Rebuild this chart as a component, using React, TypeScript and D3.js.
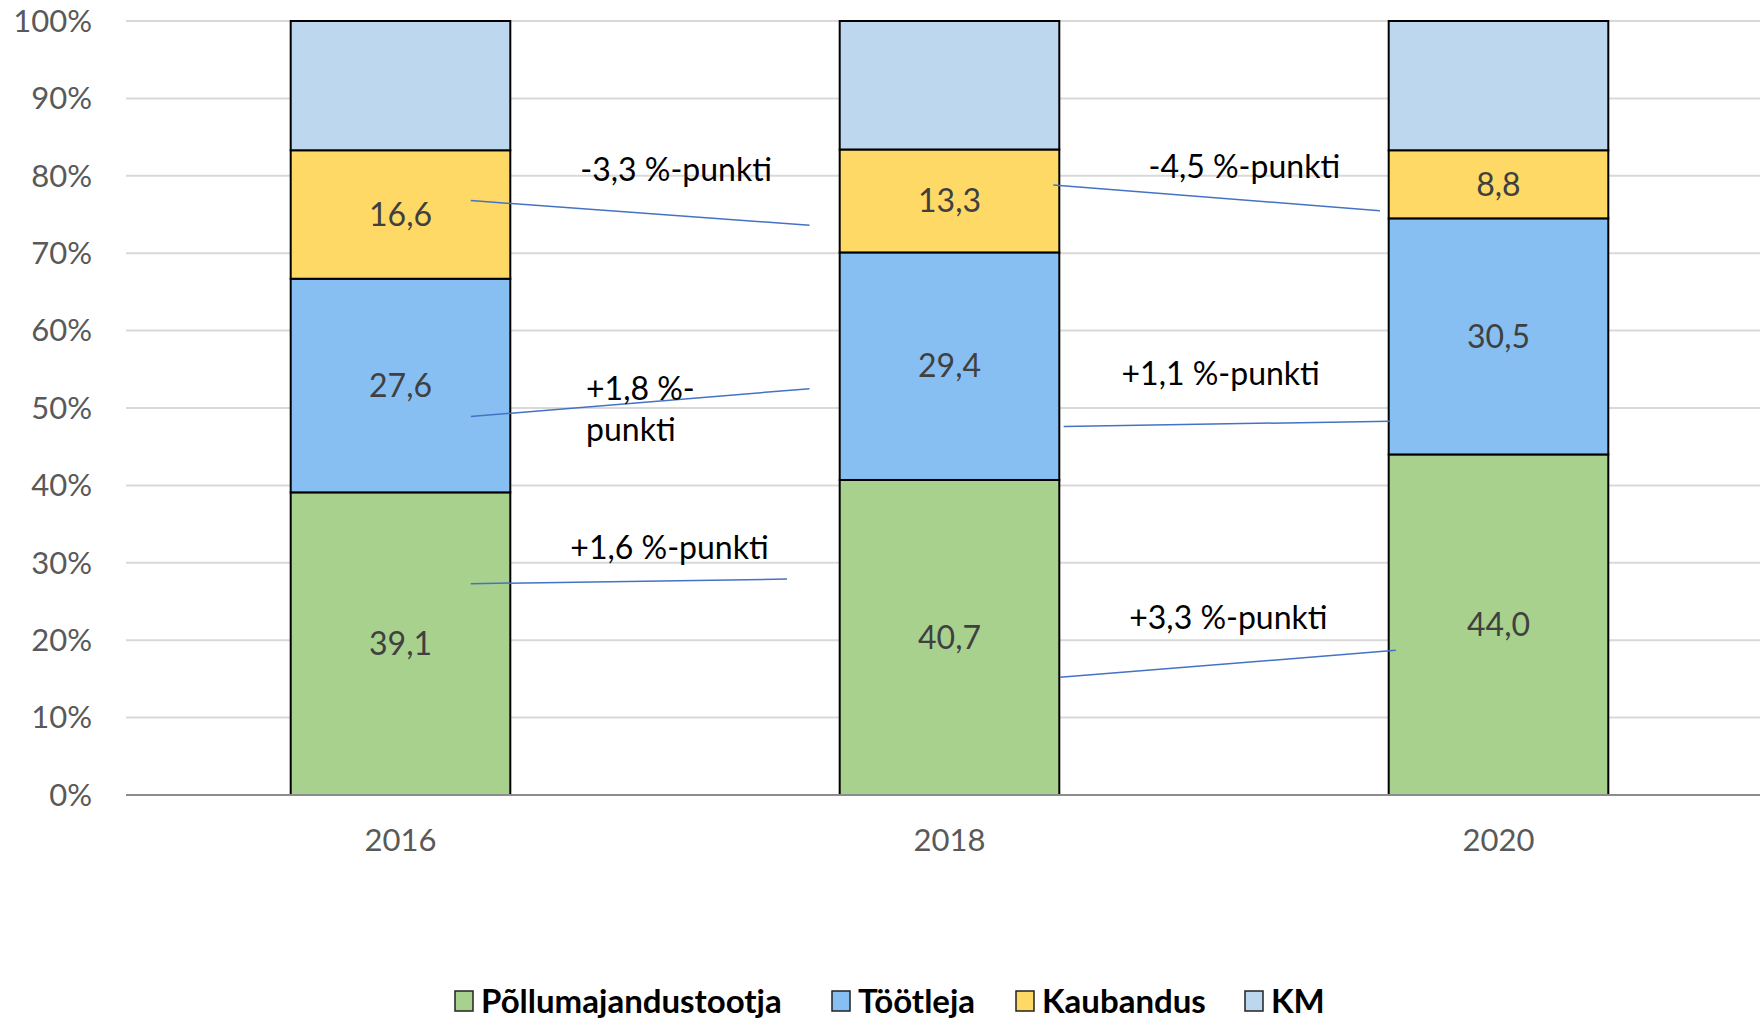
import React, { useEffect, useRef } from "react";
import * as d3 from "d3";

const years = ["2016", "2018", "2020"];
const seriesNames = ["Põllumajandustootja", "Töötleja", "Kaubandus", "KM"];
const pollumajandus = [39.1, 40.7, 44.0];
const tootleja = [27.6, 29.4, 30.5];
const kaubandus = [16.6, 13.3, 8.8];
const km = [16.7, 16.6, 16.7];
const seriesColors = ["#A9D18E", "#88BFF2", "#FFD966", "#BDD7EE"];
const yTicks = [0, 10, 20, 30, 40, 50, 60, 70, 80, 90, 100];

// change annotations: from/to in band steps relative to a year's centre, y in percent
const changeLabels = ["-3,3 %-punkti", "+1,8 %-punkti", "+1,6 %-punkti", "-4,5 %-punkti", "+1,1 %-punkti", "+3,3 %-punkti"];
const changeYear = ["2016", "2016", "2016", "2018", "2018", "2018"];
const changeFrom = [[0.128, 76.8], [0.128, 48.9], [0.128, 27.3], [0.189, 78.8], [0.208, 47.6], [0.201, 15.2]];
const changeTo = [[0.745, 73.6], [0.745, 52.5], [0.704, 27.9], [0.784, 75.5], [0.803, 48.3], [0.813, 18.7]];
const changeText = [[0.502, 80.8], [0.338, 52.5], [0.49, 31.9], [0.537, 81.1], [0.494, 54.4], [0.508, 22.9]];

const FONT = "Lato, 'Open Sans', sans-serif";

export default function App() {
  const ref = useRef<SVGSVGElement | null>(null);

  useEffect(() => {
    document.body.style.margin = "0";
    const width = 1760;
    const height = 1022;
    const margin = { top: 21, left: 126, bottom: 227 };

    const svg = d3.select(ref.current);
    svg.selectAll("*").remove();

    const x = d3
      .scaleBand<string>()
      .domain(years)
      .range([margin.left, margin.left + 549 * 3])
      .paddingInner(0.6)
      .paddingOuter(0.3);

    const y = d3
      .scaleLinear()
      .domain([0, 100])
      .range([height - margin.bottom, margin.top]);

    // gridlines
    svg
      .append("g")
      .selectAll("line")
      .data(yTicks.filter((t) => t > 0))
      .join("line")
      .attr("x1", margin.left)
      .attr("x2", width)
      .attr("y1", (d) => y(d))
      .attr("y2", (d) => y(d))
      .attr("stroke", "#D9D9D9")
      .attr("stroke-width", 2);

    svg
      .append("g")
      .selectAll("text")
      .data(yTicks)
      .join("text")
      .attr("x", 92)
      .attr("y", (d) => y(d))
      .attr("dy", "0.35em")
      .attr("text-anchor", "end")
      .attr("font-family", FONT)
      .attr("font-size", 31)
      .attr("fill", "#595959")
      .text((d) => `${d}%`);

    const table = years.map((year, i) => ({
      year,
      p: pollumajandus[i],
      t: tootleja[i],
      k: kaubandus[i],
      km: km[i],
    }));
    const keys = ["p", "t", "k", "km"];
    const stacked = d3.stack<any>().keys(keys)(table);

    const layers = svg
      .append("g")
      .selectAll("g")
      .data(stacked)
      .join("g")
      .attr("fill", (_, i) => seriesColors[i]);

    layers
      .selectAll("rect")
      .data((d) => d)
      .join("rect")
      .attr("x", (d) => x(d.data.year)!)
      .attr("width", x.bandwidth())
      .attr("y", (d) => y(d[1]))
      .attr("height", (d) => y(d[0]) - y(d[1]))
      .attr("stroke", "#000")
      .attr("stroke-width", 2);

    // value labels (not for KM)
    stacked.slice(0, 3).forEach((layer) => {
      svg
        .append("g")
        .selectAll("text")
        .data(layer)
        .join("text")
        .attr("x", (d) => x(d.data.year)! + x.bandwidth() / 2)
        .attr("y", (d) => y((d[0] + d[1]) / 2))
        .attr("dy", "0.35em")
        .attr("text-anchor", "middle")
        .attr("font-family", FONT)
        .attr("font-size", 32)
        .attr("fill", "#404040")
        .text((d) => (d[1] - d[0]).toFixed(1).replace(".", ","));
    });

    // baseline
    svg
      .append("line")
      .attr("x1", margin.left)
      .attr("x2", width)
      .attr("y1", y(0))
      .attr("y2", y(0))
      .attr("stroke", "#8C8C8C")
      .attr("stroke-width", 2);

    svg
      .append("g")
      .selectAll("text")
      .data(years)
      .join("text")
      .attr("x", (d) => x(d)! + x.bandwidth() / 2)
      .attr("y", y(0) + 45)
      .attr("dy", "0.35em")
      .attr("text-anchor", "middle")
      .attr("font-family", FONT)
      .attr("font-size", 31)
      .attr("fill", "#595959")
      .text((d) => d);

    // change annotations
    const step = x.step();
    const cx = (year: string, f: number) => x(year)! + x.bandwidth() / 2 + f * step;
    changeLabels.forEach((label, i) => {
      const yr = changeYear[i];
      svg
        .append("line")
        .attr("x1", cx(yr, changeFrom[i][0]))
        .attr("y1", y(changeFrom[i][1]))
        .attr("x2", cx(yr, changeTo[i][0]))
        .attr("y2", y(changeTo[i][1]))
        .attr("stroke", "#4472C4")
        .attr("stroke-width", 1.5);

      const t = svg
        .append("text")
        .attr("x", cx(yr, changeText[i][0]))
        .attr("y", y(changeText[i][1]))
        .attr("dy", "0.35em")
        .attr("font-family", FONT)
        .attr("font-size", 32)
        .attr("fill", "#000");
      if (label === "+1,8 %-punkti") {
        t.attr("text-anchor", "start");
        t.append("tspan").text("+1,8 %-");
        t.append("tspan")
          .attr("x", cx(yr, changeText[i][0]))
          .attr("dy", 41)
          .text("punkti");
      } else {
        t.attr("text-anchor", "middle").text(label);
      }
    });

    // legend
    const legendX = [455, 832, 1016, 1245];
    const legendY = 1001;
    const legend = svg
      .append("g")
      .selectAll("g")
      .data(seriesNames)
      .join("g")
      .attr("transform", (_, i) => `translate(${legendX[i]},${legendY})`);
    legend
      .append("rect")
      .attr("x", 0)
      .attr("y", -10)
      .attr("width", 18)
      .attr("height", 20)
      .attr("fill", (_, i) => seriesColors[i])
      .attr("stroke", "#222")
      .attr("stroke-width", 1.5);
    legend
      .append("text")
      .attr("x", 26)
      .attr("y", 0)
      .attr("dy", "0.35em")
      .attr("font-family", FONT)
      .attr("font-size", 33)
      .attr("font-weight", 700)
      .attr("fill", "#000")
      .text((d) => d);
  }, []);

  return (
    <svg
      ref={ref}
      width={1760}
      height={1022}
      style={{ display: "block", background: "#fff" }}
    />
  );
}
